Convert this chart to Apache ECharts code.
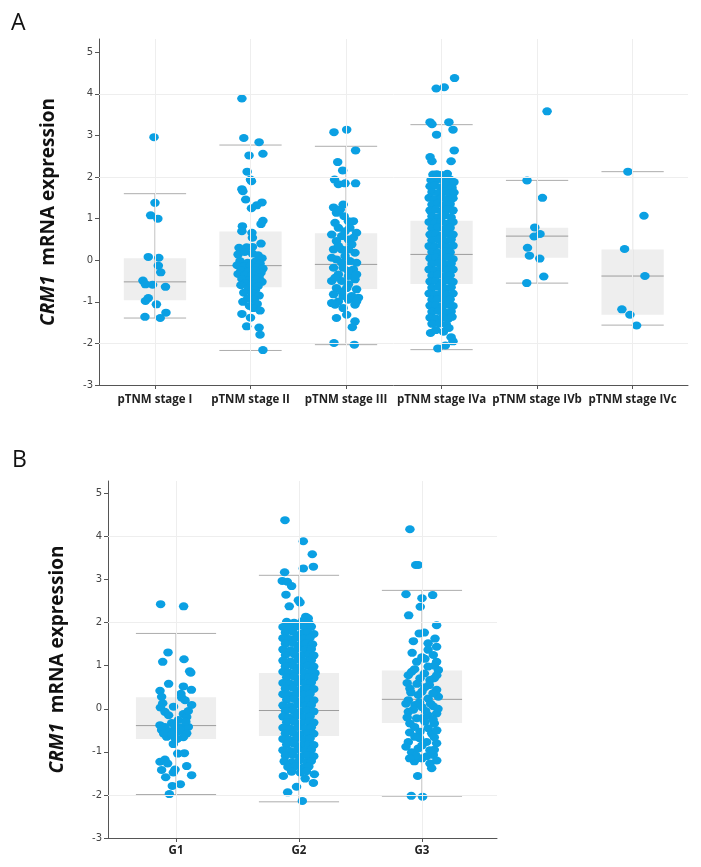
<!DOCTYPE html>
<html><head><meta charset="utf-8">
<script src="https://cdn.jsdelivr.net/npm/echarts@6/dist/echarts.min.js"></script>
<style>html,body{margin:0;padding:0;background:#fff}#c{width:701px;height:867px}</style>
</head><body><div id="c"></div>
<script>
// ---------- DATA ----------
const stagesA = ['pTNM stage I','pTNM stage II','pTNM stage III','pTNM stage IVa','pTNM stage IVb','pTNM stage IVc'];
const gradesB = ['G1','G2','G3'];
const yTickLabels = [-3,-2,-1,0,1,2,3,4,5];
// box stats: [lower whisker, Q1, median, Q3, upper whisker]
const boxA = [
  [-1.39,-0.96,-0.52,0.05,1.60],
  [-2.17,-0.65,-0.13,0.69,2.77],
  [-2.03,-0.69,-0.10,0.65,2.74],
  [-2.15,-0.57,0.14,0.95,3.26],
  [-0.55,0.06,0.58,0.78,1.92],
  [-1.56,-1.31,-0.38,0.26,2.13]
];
const boxB = [
  [-1.99,-0.70,-0.39,0.27,1.75],
  [-2.16,-0.63,-0.04,0.83,3.10],
  [-2.03,-0.33,0.22,0.89,2.75]
];
// points: [jitter (category units), expression]
const ptsStageI = [[-0.01,2.96],[0,1.38],[-0.045,1.08],[0.03,1.0],[-0.07,0.08],[0.04,0.06],[0.035,-0.13],[0.06,-0.29],[-0.126,-0.49],[-0.1,-0.58],[-0.025,-0.59],[0.11,-0.64],[-0.07,-0.91],[-0.1,-0.98],[0.015,-1.06],[-0.105,-1.36],[0.055,-1.39],[0.115,-1.26]];
const ptsStageII = [[-0.09,3.89],[-0.07,2.94],[0.09,2.84],[-0.015,2.52],[0.13,2.56],[-0.035,2.13],[0,1.94],[0.01,1.9],[-0.09,1.71],[-0.08,1.66],[-0.05,1.46],[0.12,1.39],[0.065,1.32],[0.01,1.25],[0.13,0.95],[0.11,0.87],[-0.085,0.82],[-0.09,0.7],[0.015,0.66],[0.02,0.54],[0.11,0.40],[-0.12,0.30],[-0.04,0.31],[0.02,0.32],
 [-0.13,0.14],[-0.06,0.2],[0.02,0.16],[0.08,0.12],[0.12,0.05],[-0.11,-0.02],[-0.03,-0.06],[0.05,-0.03],[0.1,-0.08],[-0.14,-0.12],[-0.07,-0.15],[0.0,-0.12],[0.07,-0.17],[0.13,-0.2],[-0.1,-0.24],[-0.02,-0.27],[0.04,-0.24],[0.11,-0.3],[-0.13,-0.33],[-0.06,-0.36],[0.02,-0.35],[0.09,-0.4],[-0.09,-0.45],[-0.01,-0.48],[0.06,-0.47],[0.12,-0.52],[-0.05,-0.55],[0.03,-0.58],[-0.1,-0.6],[0.08,-0.62],
 [-0.02,-0.68],[0.05,-0.72],[-0.07,-0.78],[0.02,-0.8],[0.09,-0.85],[-0.03,-0.92],[0.04,-0.95],[-0.08,-1.0],[0.07,-1.05],[-0.01,-1.1],[0.03,-1.15],
 [-0.09,-1.29],[0.1,-1.21],[0,-1.38],[-0.04,-1.59],[0.09,-1.62],[0.1,-1.79],[0.13,-2.16]];
const ptsStageIII = [[-0.126,3.08],[0.007,3.14],[0.1,2.64],[-0.087,2.36],[-0.035,2.16],[-0.12,1.94],[-0.08,1.83],[-0.01,1.85],[0.1,1.85],[-0.13,1.27],[-0.03,1.34],[-0.1,1.14],[-0.02,1.06],[0.077,0.94],[-0.08,0.78],[0.04,0.78],[-0.15,0.62],[-0.045,0.58],[0.11,0.66],[-0.1,0.46],[0.025,0.5],[0.06,0.38],[-0.13,0.26],[-0.045,0.26],[0.094,0.18],[-0.01,0.1],[-0.1,0.02],[0.04,-0.02],[0.11,-0.06],[-0.13,-0.18],[-0.03,-0.18],[0.077,-0.22],[-0.08,-0.34],[0.025,-0.38],[-0.15,-0.5],[-0.045,-0.5],[0.094,-0.46],[-0.1,-0.67],[0.007,-0.67],[0.11,-0.7],[-0.13,-0.82],[-0.03,-0.86],[0.06,-0.86],[-0.08,-0.99],[0.025,-0.95],[0.13,-0.9],[-0.115,-1.07],[0.094,-1.07],[-0.03,-1.15],[-0.1,-1.39],[0.007,-1.31],[0.094,-1.47],[0.066,-1.61],[-0.126,-1.99],[0.087,-2.03],
 [-0.06,1.22],[0.025,0.94],[-0.115,0.9],[-0.01,0.7],[0.077,0.54],[-0.08,0.34],[0.025,0.26],[-0.15,0.06],[-0.045,-0.06],[0.025,-0.26],[0.11,-0.34],[-0.115,-0.42],[0.025,-0.58],[-0.045,-0.75],[0.11,-0.99],[-0.15,-1.03]];
const ptsStageIVa = [[0.136,4.38],[-0.056,4.13],[0.028,4.16],[-0.12,3.32],[-0.1,3.27],[0.077,3.32],[0.12,3.14],[-0.052,3.02],[0.133,2.64],[-0.12,2.48],[-0.1,2.38],[0.1,2.38],
 [-0.09,2.06],[-0.05,2.07],[0.0,2.05],[0.06,2.08],
 [-0.11,1.93],[-0.04,1.95],[0.03,1.9],[0.09,1.94],[0.13,1.88],
 [-0.12,1.78],[-0.07,1.8],[0.0,1.76],[0.05,1.8],[0.11,1.74],
 [-0.1,1.64],[-0.03,1.62],[0.03,1.66],[0.08,1.6],[0.13,1.63],
 [-0.13,1.5],[-0.07,1.47],[0.0,1.5],[0.06,1.45],[0.12,1.49],
 [-0.1,1.34],[-0.04,1.37],[0.02,1.32],[0.09,1.35],
 [-0.12,1.2],[-0.06,1.22],[0.01,1.18],[0.06,1.23],[0.12,1.2],
 [-0.1,1.06],[-0.03,1.04],[0.04,1.08],[0.1,1.03],
 [-0.13,0.92],[-0.07,0.9],[0.0,0.93],[0.06,0.88],[0.12,0.92],
 [-0.1,0.77],[-0.04,0.79],[0.03,0.75],[0.09,0.78],
 [-0.12,0.62],[-0.06,0.64],[0.01,0.6],[0.07,0.65],[0.12,0.62],
 [-0.1,0.48],[-0.03,0.5],[0.04,0.46],[0.1,0.5],
 [-0.13,0.34],[-0.07,0.33],[0.0,0.36],[0.06,0.32],[0.12,0.35],
 [-0.1,0.2],[-0.04,0.18],[0.03,0.22],[0.09,0.19],
 [-0.12,0.05],[-0.06,0.07],[0.01,0.04],[0.07,0.08],[0.12,0.03],
 [-0.1,-0.09],[-0.03,-0.07],[0.04,-0.1],[0.1,-0.08],
 [-0.13,-0.22],[-0.07,-0.24],[0.0,-0.21],[0.06,-0.25],[0.12,-0.22],
 [-0.1,-0.37],[-0.04,-0.35],[0.03,-0.39],[0.09,-0.36],
 [-0.12,-0.51],[-0.06,-0.5],[0.01,-0.53],[0.07,-0.49],[0.12,-0.52],
 [-0.1,-0.66],[-0.03,-0.64],[0.04,-0.68],[0.1,-0.65],
 [-0.13,-0.8],[-0.07,-0.82],[0.0,-0.79],[0.06,-0.83],[0.12,-0.8],
 [-0.1,-0.95],[-0.04,-0.93],[0.03,-0.97],[0.09,-0.94],
 [-0.12,-1.09],[-0.06,-1.08],[0.01,-1.11],[0.07,-1.07],[0.12,-1.1],
 [-0.1,-1.24],[-0.03,-1.22],[0.04,-1.26],[0.1,-1.23],
 [-0.12,-1.38],[-0.06,-1.4],[0.01,-1.37],[0.07,-1.41],[0.11,-1.36],
 [-0.1,-1.53],[-0.02,-1.52],[0.05,-1.55],
 [-0.115,-1.75],[0.077,-1.63],[-0.06,-1.68],[0.02,-1.72],
 [0.12,-1.95],[-0.038,-2.12],[0.04,-2.05],[0.1,-1.85]];
const ptsStageIVb = [[0.105,3.58],[-0.105,1.92],[0.056,1.5],[-0.024,0.79],[0.031,0.63],[-0.031,0.57],[-0.1,0.3],[-0.08,0.11],[0.028,0.04],[0.07,-0.39],[-0.108,-0.55]];
const ptsStageIVc = [[-0.049,2.13],[0.119,1.07],[-0.084,0.27],[0.129,-0.38],[-0.112,-1.18],[-0.028,-1.31],[0.042,-1.57]];

const ptsG1 = [[-0.125,2.43],[0.062,2.38],[-0.065,1.31],[-0.108,1.09],[0.065,1.15],[0.111,0.87],[0.12,0.84],[-0.06,0.58],[-0.13,0.42],[0.06,0.52],[0.125,0.44],[-0.117,0.28],[0.046,0.26],[0.073,0.2],[-0.108,0.13],[0.127,0.09],[-0.127,0.03],[-0.09,-0.07],[0.06,-0.12],[0.087,-0.19],[0.02,-0.26],[-0.035,-0.33],[-0.13,-0.38],[-0.09,-0.42],[-0.008,-0.4],[0.046,-0.43],[0.1,-0.42],[-0.117,-0.49],[-0.049,-0.52],[0.02,-0.52],[0.087,-0.57],[-0.076,-0.65],[-0.008,-0.68],[0.06,-0.66],[-0.022,-0.82],[0.014,-1.04],[0.068,-1.03],[-0.13,-1.23],[-0.09,-1.18],[-0.068,-1.27],[0.087,-1.33],[-0.117,-1.42],[-0.008,-1.41],[-0.022,-1.48],[-0.084,-1.59],[0.127,-1.54],[-0.03,-1.79],[0.035,-1.75],[-0.054,-1.98],
 [-0.1,-0.58],[0.03,-0.47],[-0.03,-0.6],[0.08,-0.3],[-0.06,-0.15],[0.01,-0.7],[0.04,0.35],[-0.02,0.05],[0.1,-0.05]];
const ptsG2 = [[-0.114,4.38],[0.035,3.89],[0.108,3.59],[0.117,3.3],[0.035,3.26],[-0.117,3.17],[-0.136,2.97],[-0.095,2.95],[-0.06,2.85],[-0.106,2.65],[-0.005,2.52],[0.008,2.47],[-0.079,2.38],[0.055,2.14],[0.075,2.1],
 [-0.1,2.02],[-0.04,2.0],[0.03,2.04],[0.08,1.99],
 [-0.13,1.9],[-0.07,1.88],[-0.01,1.92],[0.05,1.89],[0.1,1.91],
 [-0.11,1.77],[-0.05,1.79],[0.02,1.75],[0.07,1.78],[0.12,1.74],
 [-0.13,1.64],[-0.08,1.62],[-0.02,1.66],[0.04,1.63],[0.09,1.65],
 [-0.11,1.51],[-0.05,1.53],[0.01,1.49],[0.06,1.52],[0.11,1.5],
 [-0.13,1.38],[-0.07,1.36],[-0.01,1.4],[0.05,1.37],[0.1,1.39],
 [-0.11,1.25],[-0.04,1.27],[0.02,1.23],[0.08,1.26],[0.12,1.24],
 [-0.13,1.12],[-0.07,1.1],[-0.01,1.14],[0.04,1.11],[0.1,1.13],
 [-0.11,0.99],[-0.05,1.01],[0.01,0.97],[0.07,1.0],[0.12,0.98],
 [-0.13,0.86],[-0.08,0.84],[-0.02,0.88],[0.04,0.85],[0.1,0.87],[0.13,0.83],
 [-0.1,0.73],[-0.04,0.75],[0.02,0.71],[0.08,0.74],[0.12,0.72],
 [-0.13,0.6],[-0.07,0.58],[-0.01,0.62],[0.05,0.59],[0.1,0.61],
 [-0.11,0.47],[-0.05,0.49],[0.01,0.45],[0.07,0.48],[0.12,0.46],
 [-0.13,0.34],[-0.08,0.32],[-0.02,0.36],[0.04,0.33],[0.09,0.35],
 [-0.1,0.21],[-0.04,0.23],[0.02,0.19],[0.08,0.22],[0.12,0.2],
 [-0.13,0.08],[-0.07,0.06],[-0.01,0.1],[0.05,0.07],[0.1,0.09],
 [-0.11,-0.05],[-0.05,-0.03],[0.01,-0.07],[0.07,-0.04],[0.12,-0.06],
 [-0.13,-0.18],[-0.08,-0.2],[-0.02,-0.16],[0.04,-0.19],[0.09,-0.17],
 [-0.1,-0.31],[-0.04,-0.29],[0.02,-0.33],[0.08,-0.3],[0.12,-0.32],
 [-0.13,-0.44],[-0.07,-0.46],[-0.01,-0.42],[0.05,-0.45],[0.1,-0.43],
 [-0.11,-0.57],[-0.05,-0.55],[0.01,-0.59],[0.07,-0.56],[0.12,-0.58],
 [-0.13,-0.7],[-0.08,-0.72],[-0.02,-0.68],[0.04,-0.71],[0.09,-0.69],
 [-0.1,-0.83],[-0.04,-0.81],[0.02,-0.85],[0.08,-0.82],[0.12,-0.84],
 [-0.13,-0.96],[-0.07,-0.98],[-0.01,-0.94],[0.05,-0.97],[0.1,-0.95],
 [-0.11,-1.09],[-0.05,-1.07],[0.01,-1.11],[0.07,-1.08],[0.12,-1.1],
 [-0.12,-1.22],[-0.06,-1.24],[0.0,-1.2],[0.06,-1.23],[0.1,-1.21],
 [-0.09,-1.35],[-0.03,-1.33],[0.03,-1.37],[0.08,-1.34],
 [-0.06,-1.46],[0.01,-1.48],[0.06,-1.45],
 [-0.127,-1.56],[0.117,-1.72],[-0.092,-1.94],[-0.02,-1.81],[0.027,-2.14],[0.125,-1.52],[0.05,-1.62]];
const ptsG3 = [[-0.098,4.17],[-0.051,3.34],[-0.03,3.34],[-0.13,2.66],[0,2.57],[0.087,2.64],[-0.014,2.37],[-0.108,2.17],[0.119,1.94],[-0.022,1.75],[0.019,1.77],[0.106,1.63],[-0.07,1.57],[0.05,1.52],[0.119,1.44],[0.05,1.37],[0.092,1.25],[-0.043,1.09],[0.024,1.16],[0.119,1.09],[0.05,0.98],[0.133,0.9],[-0.111,0.78],[-0.084,0.86],[-0.016,0.71],[0.065,0.67],[0.1,0.71],[-0.098,0.47],[0.024,0.5],[0.119,0.44],[-0.03,0.32],[-0.111,0.2],[0.05,0.24],[0.133,0.28],[-0.057,0.09],[0,0.04],[0.092,0.06],[-0.111,-0.07],[0.05,-0.15],[0.119,-0.11],[-0.043,-0.22],[0.024,-0.3],[-0.098,-0.34],[0.1,-0.34],[-0.016,-0.53],[0.079,-0.57],[-0.057,-0.65],[-0.111,-0.77],[0.038,-0.77],[0.119,-0.8],[-0.03,-0.92],[0.065,-0.96],[-0.084,-1.01],[0.092,-1.07],[0,-1.15],[-0.062,-1.22],[0.065,-1.27],[0.079,-1.38],[-0.035,-1.56],[-0.087,-2.02],[0.005,-2.04],
 [-0.08,1.3],[0.0,1.2],[0.1,1.0],[-0.06,0.92],[0.02,0.82],[0.12,0.78],[-0.12,0.6],[-0.04,0.58],[0.06,0.55],[-0.09,0.38],[0.0,0.4],[0.09,0.36],[-0.13,0.12],[-0.02,0.15],[0.07,0.12],[-0.07,-0.02],[0.03,-0.05],[0.13,0.0],[-0.12,-0.2],[0.0,-0.22],[0.09,-0.25],[-0.06,-0.42],[0.05,-0.45],[0.12,-0.5],[-0.1,-0.55],[-0.02,-0.68],[0.1,-0.66],[-0.13,-0.88],[0.0,-0.85],[0.1,-0.95],[-0.05,-1.08],[0.04,-1.1],[-0.1,-1.15],[0.12,-1.2]];

// ---------- STYLE ----------
const BLUE = '#0ba0e3';
const BOX_HALF = 0.326;
const FAINT = '#eeeeee';

function toPts(groups){ const out=[]; groups.forEach((g,i)=>g.forEach(p=>out.push([i+1+p[0], p[1]]))); return out; }
function boxData(b){ return b.map((s,i)=>[i+1].concat(s)); }

function renderBox(params, api){
  const x = api.value(0), lo = api.value(1), q1 = api.value(2), med = api.value(3), q3 = api.value(4), hi = api.value(5);
  const tl = api.coord([x-BOX_HALF, q3]), br = api.coord([x+BOX_HALF, q1]);
  const top = api.coord([x, hi]), bot = api.coord([x, lo]);
  const mL = api.coord([x-BOX_HALF, med]), mR = api.coord([x+BOX_HALF, med]);
  const hL = api.coord([x-BOX_HALF, hi]), hR = api.coord([x+BOX_HALF, hi]);
  const lL = api.coord([x-BOX_HALF, lo]), lR = api.coord([x+BOX_HALF, lo]);
  const ls = {stroke:'#adadad', lineWidth:1};
  return {type:'group', children:[
    {type:'rect', shape:{x:tl[0], y:tl[1], width:br[0]-tl[0], height:br[1]-tl[1]}, style:{fill:'#eeeeee'}},
    {type:'line', shape:{x1:top[0], y1:top[1], x2:bot[0], y2:bot[1]}, style:ls},
    {type:'line', shape:{x1:hL[0], y1:hL[1], x2:hR[0], y2:hR[1]}, style:ls},
    {type:'line', shape:{x1:lL[0], y1:lL[1], x2:lR[0], y2:lR[1]}, style:ls},
    {type:'line', shape:{x1:mL[0], y1:mL[1], x2:mR[0], y2:mR[1]}, style:{stroke:'#9c9c9c', lineWidth:1}}
  ]};
}

function yAxisCfg(gi, max){
  return {gridIndex:gi, type:'value', min:-3, max:max, interval:1,
    axisLine:{show:true, onZero:false, lineStyle:{color:'#555', width:1}},
    axisTick:{show:true, length:4, customValues:yTickLabels, lineStyle:{color:'#555'}},
    axisLabel:{customValues:yTickLabels, fontSize:10, color:'#444', margin:6, fontFamily:'DejaVu Sans'},
    splitLine:{show:false},
    name:'{i|CRM1}  mRNA expression', nameLocation:'middle', nameGap:41, nameRotate:90,
    nameTextStyle:{fontSize:19, fontWeight:'bold', color:'#111', fontFamily:'Open Sans',
      rich:{i:{fontStyle:'italic', fontWeight:'bold', fontSize:19, color:'#111', fontFamily:'Open Sans'}}}
  };
}
function xAxisCfg(gi, min, max, names, margin){
  const vals = names.map((n,i)=>i+1);
  return {gridIndex:gi, type:'value', min:min, max:max,
    axisLine:{show:true, onZero:false, lineStyle:{color:'#555', width:1}},
    axisTick:{show:true, length:4, customValues:vals, lineStyle:{color:'#555'}},
    axisLabel:{customValues:vals, formatter:v=>names[Math.round(v)-1], fontSize:11.5, fontWeight:'bold', color:'#222', margin:margin, fontFamily:'Open Sans'},
    splitLine:{show:false}
  };
}
function gridSeries(xi, n){
  const data = [{yAxis:4},{yAxis:2},{yAxis:-2}];
  for(let i=1;i<=n;i++) data.push({xAxis:i});
  return {type:'scatter', xAxisIndex:xi, yAxisIndex:xi, data:[], z:0, silent:true,
    markLine:{silent:true, symbol:['none','none'], label:{show:false}, animation:false,
      lineStyle:{type:'solid', color:FAINT, width:1}, emphasis:{disabled:true}, data:data}};
}

const chart = echarts.init(document.getElementById('c'));
chart.setOption({
  animation:false,
  backgroundColor:'#fff',
  grid:[{left:99, top:39, width:589, height:346}, {left:108, top:481, width:389, height:357}],
  xAxis:[xAxisCfg(0, 0.414, 6.58, stagesA, 9), xAxisCfg(1, 0.447, 3.61, gradesB, 7)],
  yAxis:[yAxisCfg(0, 5.32), yAxisCfg(1, 5.29)],
  graphic:[
    {type:'text', left:11, top:12, style:{text:'A', fontSize:23, fontFamily:'Open Sans', fill:'#111'}},
    {type:'text', left:12, top:449, style:{text:'B', fontSize:23, fontFamily:'Open Sans', fill:'#111'}}
  ],
  series:[
    gridSeries(0, stagesA.length), gridSeries(1, gradesB.length),
    {type:'custom', xAxisIndex:0, yAxisIndex:0, z:1, silent:true, renderItem:renderBox, encode:{x:0, y:[1,2,3,4,5]}, data:boxData(boxA)},
    {type:'custom', xAxisIndex:1, yAxisIndex:1, z:1, silent:true, renderItem:renderBox, encode:{x:0, y:[1,2,3,4,5]}, data:boxData(boxB)},
    {type:'scatter', xAxisIndex:0, yAxisIndex:0, z:2, symbol:'circle', symbolSize:[9.5,8], itemStyle:{color:BLUE, opacity:1},
      data:toPts([ptsStageI, ptsStageII, ptsStageIII, ptsStageIVa, ptsStageIVb, ptsStageIVc])},
    {type:'scatter', xAxisIndex:1, yAxisIndex:1, z:2, symbol:'circle', symbolSize:[9.5,8], itemStyle:{color:BLUE, opacity:1},
      data:toPts([ptsG1, ptsG2, ptsG3])}
  ]
});
</script></body></html>
